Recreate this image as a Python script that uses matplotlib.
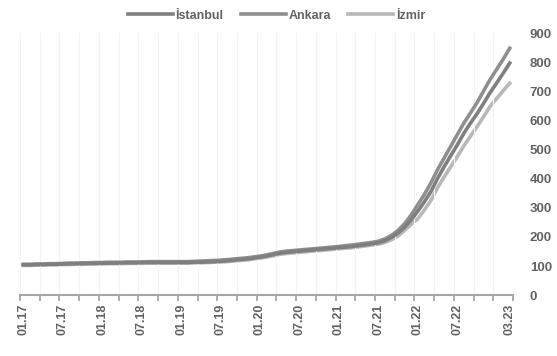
'''
Housing price index for Istanbul, Ankara and Izmir, monthly 01.17 - 03.23.
'''

import numpy as np
from matplotlib import pyplot as plt


#(0) Data (index, 2017 = 100):
months = ['%02d.%02d' % (m, y) for y in range(17, 24) for m in range(1, 13)][:75]

istanbul = [104, 104, 105, 105, 106, 106, 107, 107, 108, 108, 109, 109,
            110, 110, 110, 111, 111, 111, 112, 112, 112, 112, 112, 112,
            112, 112, 113, 113, 114, 115, 116, 118, 120, 122, 124, 127,
            130, 134, 139, 144, 147, 149, 151, 153, 155, 157, 159, 161,
            163, 165, 167, 170, 173, 176, 180, 187, 198, 213, 233, 258,
            288, 320, 355, 400, 440, 478, 515, 555, 590, 622, 658, 695,
            728, 762, 797]
ankara   = [106, 106, 107, 107, 108, 108, 109, 110, 110, 111, 111, 112,
            112, 113, 113, 113, 114, 114, 114, 115, 115, 115, 115, 115,
            115, 115, 116, 117, 118, 119, 120, 122, 124, 126, 128, 131,
            134, 138, 143, 148, 151, 153, 155, 157, 159, 161, 163, 165,
            167, 170, 172, 175, 178, 181, 185, 193, 205, 222, 245, 275,
            310, 345, 385, 430, 470, 510, 550, 590, 625, 660, 700, 740,
            775, 810, 848]
izmir    = [102, 102, 103, 103, 104, 104, 105, 105, 106, 106, 107, 107,
            107, 108, 108, 108, 109, 109, 109, 110, 110, 110, 110, 110,
            110, 110, 111, 111, 112, 113, 114, 115, 117, 119, 121, 124,
            127, 131, 135, 140, 143, 145, 147, 149, 151, 153, 155, 157,
            159, 161, 163, 166, 169, 172, 175, 181, 190, 203, 222, 243,
            262, 292, 325, 368, 405, 440, 475, 512, 545, 578, 612, 648,
            675, 702, 728]

tick_labels = ['01.17', '07.17', '01.18', '07.18', '01.19', '07.19', '01.20',
               '07.20', '01.21', '07.21', '01.22', '07.22', '03.23']
yticks      = np.arange(0, 1000, 100)



#(1) Plot:
plt.close('all')
plt.rcParams['font.family'] = ['Liberation Sans', 'DejaVu Sans']
txtc     = '#636363'
fig      = plt.figure(figsize=(5.57, 3.56), dpi=100)
ax       = fig.add_axes([0.036, 0.171, 0.885, 0.736])
x        = np.arange(len(months))
ax.plot(x, istanbul, color='#7f7f7f', lw=2.6, label='İstanbul', zorder=3)
ax.plot(x, ankara,   color='#8f8f8f', lw=2.6, label='Ankara',   zorder=2)
ax.plot(x, izmir,    color='#b8b8b8', lw=2.6, label='İzmir',    zorder=1)

ax.set_xlim(-0.5, len(months) - 0.5)
ax.set_ylim(0, 900)
ax.yaxis.tick_right()
ax.set_yticks(yticks)
ax.set_yticklabels([str(v) for v in yticks], color=txtc, size=9.5, weight='bold')
ax.tick_params(axis='y', length=0, pad=12)

label_pos = [months.index(s) for s in tick_labels]
ax.set_xticks(label_pos)
ax.set_xticklabels(tick_labels, rotation=90, color=txtc, size=9, weight='bold')
ax.set_xticks(np.arange(-0.5, len(months), 3), minor=True)
ax.tick_params(axis='x', which='major', length=0, pad=6)
ax.tick_params(axis='x', which='minor', length=4, width=1.3, color='#a6a6a6', direction='out')
ax.grid(axis='x', which='minor', color='#f3f3f3', lw=0.8)

for s in ['top', 'left', 'right']:
	ax.spines[s].set_visible(False)
ax.spines['bottom'].set_color('#a6a6a6')
ax.spines['bottom'].set_linewidth(1.5)

leg = ax.legend(loc='lower center', bbox_to_anchor=(0.52, 1.0), ncol=3, frameon=False,
                handlelength=3.6, columnspacing=1.4, handletextpad=0.2,
                prop={'size': 9, 'weight': 'bold'})
plt.setp(leg.get_texts(), color=txtc)

plt.savefig('out.png', dpi=100)
